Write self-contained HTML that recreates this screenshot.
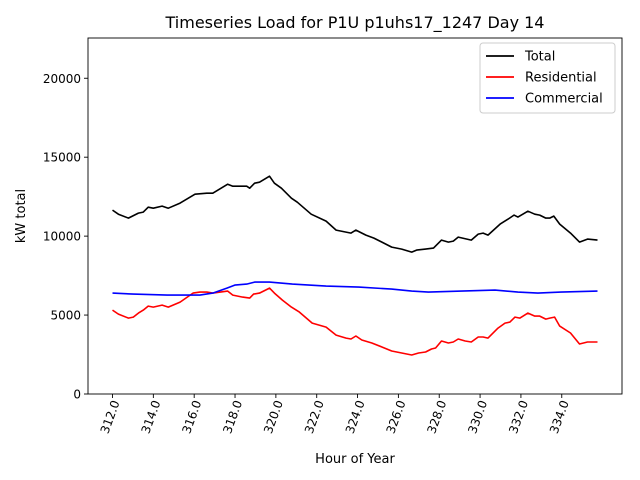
<!DOCTYPE html>
<html><head><meta charset="utf-8"><style>
html,body{margin:0;padding:0;background:#fff}
svg{display:block;font-family:"DejaVu Sans","Liberation Sans",sans-serif}
</style></head><body>
<svg id="chart" width="640" height="480" xmlns="http://www.w3.org/2000/svg">
<rect width="640" height="480" fill="#fff"/>
<text x="355" y="28" font-size="16" text-anchor="middle">Timeseries Load for P1U p1uhs17_1247  Day 14</text>
<text x="355" y="463" font-size="13" text-anchor="middle">Hour of Year</text>
<text transform="translate(25,216) rotate(-90)" font-size="13" text-anchor="middle">kW total</text>
<g id="plot"></g>
</svg>
<script>
const totalHours = [312.00,312.29,312.78,313.27,313.51,313.75,314.00,314.43,314.73,315.31,316.04,316.62,316.91,317.64,317.89,318.57,318.72,318.96,319.20,319.69,319.93,320.27,320.76,321.05,321.73,322.46,322.95,323.68,323.92,324.41,324.80,325.19,325.67,326.16,326.65,326.89,327.33,327.72,328.11,328.45,328.69,328.93,329.57,329.91,330.15,330.39,330.98,331.37,331.66,331.85,332.34,332.68,332.92,333.22,333.41,333.61,333.90,334.43,334.87,335.26,335.75];
const totalValues = [11646,11392,11139,11456,11519,11835,11772,11899,11772,12089,12658,12721,12721,13291,13164,13164,13038,13354,13418,13797,13354,13038,12405,12152,11392,10949,10380,10190,10380,10063,9873,9620,9304,9177,8987,9114,9177,9240,9747,9620,9683,9937,9747,10127,10190,10063,10759,11076,11329,11203,11582,11392,11329,11139,11139,11266,10759,10190,9620,9810,9747];
const resHours = [312.00,312.29,312.78,313.02,313.27,313.51,313.75,314.00,314.43,314.73,315.31,315.94,316.28,316.62,316.91,317.64,317.89,318.37,318.72,318.91,319.20,319.69,319.93,320.32,320.76,321.15,321.78,322.46,322.95,323.44,323.68,323.92,324.21,324.70,325.19,325.67,326.16,326.65,326.99,327.33,327.62,327.82,328.11,328.45,328.69,328.93,329.27,329.57,329.91,330.15,330.39,330.88,331.22,331.46,331.71,331.95,332.34,332.68,332.92,333.22,333.41,333.65,333.90,334.43,334.87,335.26,335.75];
const resValues = [5316,5063,4810,4873,5127,5316,5570,5506,5633,5506,5823,6392,6456,6456,6392,6519,6266,6139,6076,6329,6392,6709,6392,5950,5506,5190,4494,4240,3734,3544,3481,3671,3418,3228,2975,2721,2595,2468,2595,2658,2848,2911,3354,3228,3291,3481,3354,3291,3608,3608,3544,4177,4494,4557,4873,4810,5127,4937,4937,4747,4810,4873,4304,3861,3165,3291,3291];
const comHours = [312.00,313.02,314.68,316.28,316.91,317.60,317.99,318.57,318.96,319.69,320.81,322.46,324.06,325.67,326.65,327.47,329.08,330.73,331.85,332.83,333.95,335.75];
const comValues = [6392,6329,6266,6266,6392,6709,6899,6962,7089,7089,6962,6835,6772,6646,6519,6456,6519,6582,6456,6392,6456,6519];
const xTicks = [312,314,316,318,320,322,324,326,328,330,332,334];
const yTicks = [0,5000,10000,15000,20000];

const NS = "http://www.w3.org/2000/svg";
const L = 88, R = 622, T = 38, B = 394;
const xMin = 310.8, xMax = 336.95, yMin = 0, yMax = 22550;
const xs = h => L + (h - xMin) / (xMax - xMin) * (R - L);
const ys = v => B - (v - yMin) / (yMax - yMin) * (B - T);
const g = document.getElementById('plot');
function mk(tag, attrs, parent) {
  const e = document.createElementNS(NS, tag);
  for (const k in attrs) e.setAttribute(k, attrs[k]);
  (parent || g).appendChild(e);
  return e;
}
function series(hours, vals, color, name) {
  const d = hours.map((h, i) => (i ? 'L' : 'M') + xs(h).toFixed(1) + ' ' + ys(vals[i]).toFixed(1)).join(' ');
  const p = mk('path', {d: d, fill: 'none', stroke: color, 'stroke-width': 1.6, 'stroke-linejoin': 'round'});
  
  
}
series(totalHours, totalValues, '#000', 'total-line');
series(resHours, resValues, '#ff0000', 'residential-line');
series(comHours, comValues, '#0000ff', 'commercial-line');
const fr = mk('rect', {x: L, y: T, width: R - L, height: B - T, fill: 'none', stroke: '#000', 'stroke-width': 0.9});


xTicks.forEach(t => {
  const x = xs(t);
  const tk = mk('line', {x1: x, x2: x, y1: B, y2: B + 4, stroke: '#000', 'stroke-width': 0.9});
  
  
  const tx = mk('text', {transform: `translate(${x + 4},${B + 7}) rotate(-70)`, 'font-size': 12, 'text-anchor': 'end', 'dominant-baseline': 'middle'});
  tx.textContent = t.toFixed(1);
  
  
});
yTicks.forEach(t => {
  const y = ys(t);
  const tk = mk('line', {x1: L - 4, x2: L, y1: y, y2: y, stroke: '#000', 'stroke-width': 0.9});
  
  
  const tx = mk('text', {x: L - 7, y: y + 4.5, 'font-size': 12, 'text-anchor': 'end'});
  tx.textContent = t;
  
  
});
const lg = mk('g', {});


mk('rect', {x: 480, y: 43, width: 135, height: 70, rx: 3, fill: '#fff', stroke: '#ccc', 'stroke-width': 1}, lg);
[['Total', '#000'], ['Residential', '#ff0000'], ['Commercial', '#0000ff']].forEach((e, i) => {
  const y = 56 + i * 21;
  const ln = mk('line', {x1: 486, x2: 514, y1: y, y2: y, stroke: e[1], 'stroke-width': 1.8}, lg);
  
  
  const tx = mk('text', {x: 525, y: y + 4.5, 'font-size': 13}, lg);
  tx.textContent = e[0];
  
  
});
</script>
</body></html>
